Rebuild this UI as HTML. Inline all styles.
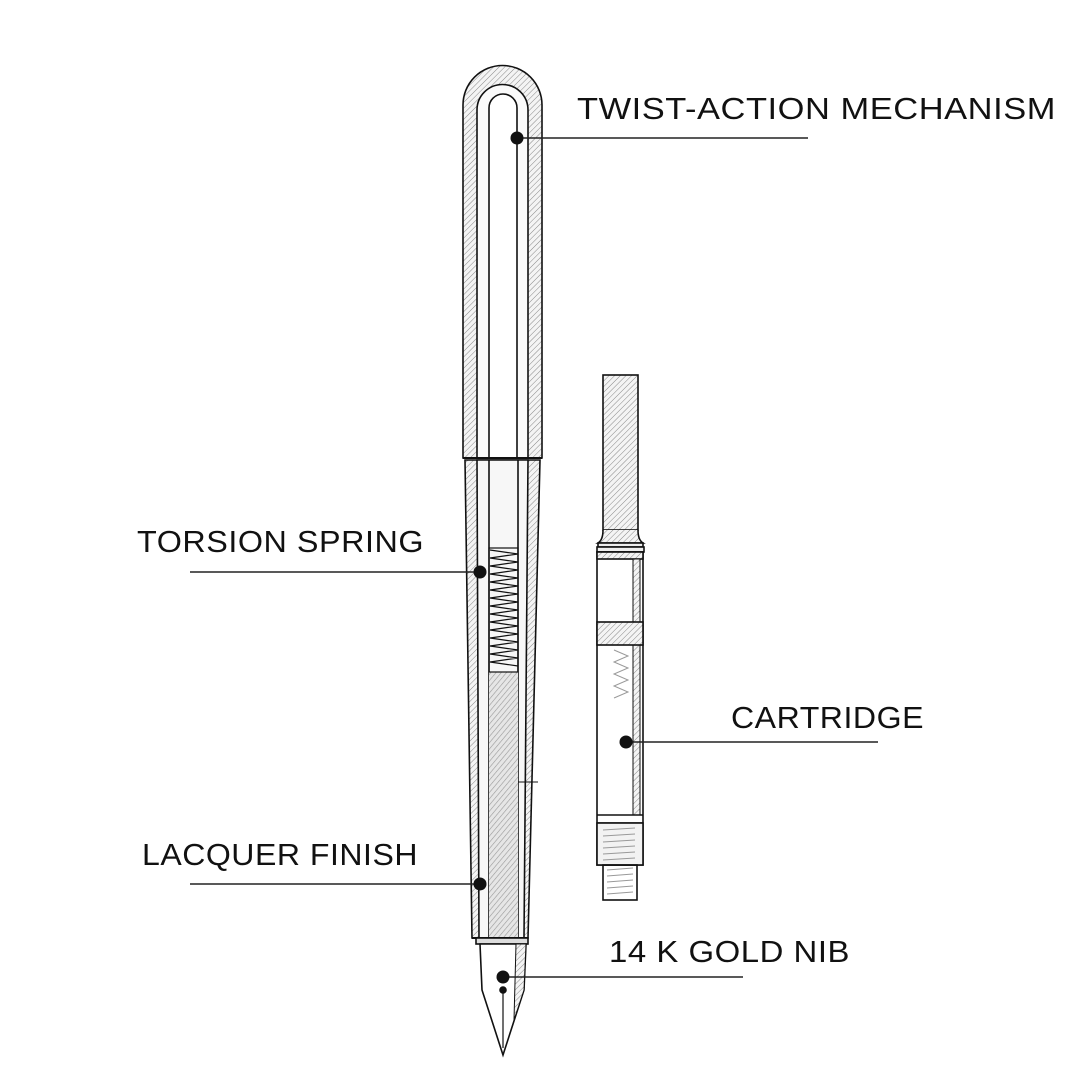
<!DOCTYPE html>
<html><head><meta charset="utf-8"><style>
html,body{margin:0;padding:0;background:#fff;}
svg{display:block;}
text{font-family:"Liberation Sans",sans-serif;font-size:31px;fill:#111;letter-spacing:0.5px;}
</style></head><body>
<svg width="1080" height="1080" viewBox="0 0 1080 1080" xmlns="http://www.w3.org/2000/svg">
<defs>
<pattern id="h" width="4" height="4" patternUnits="userSpaceOnUse" patternTransform="rotate(45)">
<rect width="4" height="4" fill="#f4f4f4"/><line x1="0" y1="0" x2="0" y2="4" stroke="#888" stroke-width="1"/></pattern>
<pattern id="hd" width="4" height="4" patternUnits="userSpaceOnUse" patternTransform="rotate(40)">
<rect width="4" height="4" fill="#e6e6e6"/><line x1="0" y1="0" x2="0" y2="4" stroke="#999" stroke-width="1.2"/></pattern>
</defs>
<g stroke="#111" fill="none" stroke-width="1.6">
<!-- cap -->
<path d="M463 458 L463 105 A39.5 39.5 0 0 1 542 105 L542 458 Z" fill="url(#h)"/>
<path d="M477 458 L477 110 A25.5 25.5 0 0 1 528 110 L528 458 Z" fill="#fafafa"/>
<path d="M489 458 L489 108 A14 14 0 0 1 517 108 L517 458" fill="#fff"/>
<line x1="463" y1="458" x2="542" y2="458" stroke-width="2"/>
<!-- barrel -->
<path d="M465 460 L540 460 L528 938 L472 938 Z" fill="url(#h)"/>
<path d="M477 460 L528 460 L524 938 L479 938 Z" fill="#f7f7f7"/>
<line x1="489" y1="460" x2="489" y2="938"/>
<line x1="518" y1="460" x2="518" y2="938"/>
<rect x="489" y="672" width="29" height="266" fill="url(#hd)" stroke="none"/>
<line x1="518" y1="782" x2="538" y2="782" stroke-width="1"/>
<!-- spring -->
<g stroke-width="1.2">
<path d="M490 550 l28 4 l-28 4 l28 4 l-28 4 l28 4 l-28 4 l28 4 l-28 4 l28 4 l-28 4 l28 4 l-28 4 l28 4 l-28 4 l28 4 l-28 4 l28 4 l-28 4 l28 4 l-28 4 l28 4 l-28 4 l28 4 l-28 4 l28 4 l-28 4 l28 4 l-28 4 l28 4"/>
<rect x="489" y="548" width="29" height="124"/>
</g>
<line x1="472" y1="938" x2="528" y2="938" stroke-width="2"/>
<rect x="476" y="938" width="52" height="6" fill="#ddd"/>
<!-- nib -->
<path d="M480 944 L526 944 L524 990 L503 1055 L482 990 Z" fill="#fff"/>
<path d="M516 944 L526 944 L524 990 L514 1020 Z" fill="url(#h)" stroke-width="1"/>
<line x1="503" y1="993" x2="503" y2="1048" stroke-width="1.2"/>
<circle cx="503" cy="990" r="3" fill="#111"/>
<!-- cartridge -->
<rect x="603" y="375" width="35" height="155" fill="url(#h)"/>
<path d="M603 530 Q603 540 598 543 L643 543 Q638 540 638 530" fill="url(#h)"/>
<rect x="598" y="543" width="45" height="4" fill="#eee"/>
<rect x="597" y="547" width="47" height="5" fill="#eee"/>
<rect x="597" y="552" width="46" height="313" fill="#fff"/>
<rect x="597" y="552" width="46" height="7" fill="url(#h)"/>
<rect x="633" y="559" width="7" height="256" fill="url(#h)" stroke-width="1"/>
<rect x="597" y="622" width="46" height="23" fill="url(#h)"/>
<line x1="597" y1="815" x2="643" y2="815"/>
<line x1="597" y1="823" x2="643" y2="823"/>
<rect x="597" y="823" width="46" height="42" fill="#f2f2f2"/>
<g stroke="#999" stroke-width="1">
<path d="M603 830 L635 828 M603 836 L635 834 M603 842 L635 840 M603 848 L635 846 M603 854 L635 852 M603 860 L635 858 M607 870 L633 868 M607 876 L633 874 M607 882 L633 880 M607 888 L633 886 M607 894 L633 892"/>
<path d="M614 650 l14 6 l-14 6 l14 6 l-14 6 l14 6 l-14 6 l14 6 l-14 6"/>
</g>
<rect x="603" y="865" width="34" height="35" fill="none"/>
</g>
<!-- leaders -->
<g stroke="#222" stroke-width="1.6">
<line x1="517" y1="138" x2="808" y2="138"/>
<line x1="190" y1="572" x2="480" y2="572"/>
<line x1="626" y1="742" x2="878" y2="742"/>
<line x1="190" y1="884" x2="480" y2="884"/>
<line x1="503" y1="977" x2="743" y2="977"/>
</g>
<g fill="#111">
<circle cx="517" cy="138" r="6.5"/>
<circle cx="480" cy="572" r="6.5"/>
<circle cx="480" cy="884" r="6.5"/>
<circle cx="626" cy="742" r="6.5"/>
<circle cx="503" cy="977" r="6.5"/>
</g>
<text x="577" y="119" textLength="479" lengthAdjust="spacingAndGlyphs">TWIST-ACTION MECHANISM</text>
<text x="137" y="552" textLength="287" lengthAdjust="spacingAndGlyphs">TORSION SPRING</text>
<text x="731" y="728" textLength="193" lengthAdjust="spacingAndGlyphs">CARTRIDGE</text>
<text x="142" y="865" textLength="276" lengthAdjust="spacingAndGlyphs">LACQUER FINISH</text>
<text x="609" y="962" textLength="241" lengthAdjust="spacingAndGlyphs">14 K GOLD NIB</text>
</svg>
</body></html>
